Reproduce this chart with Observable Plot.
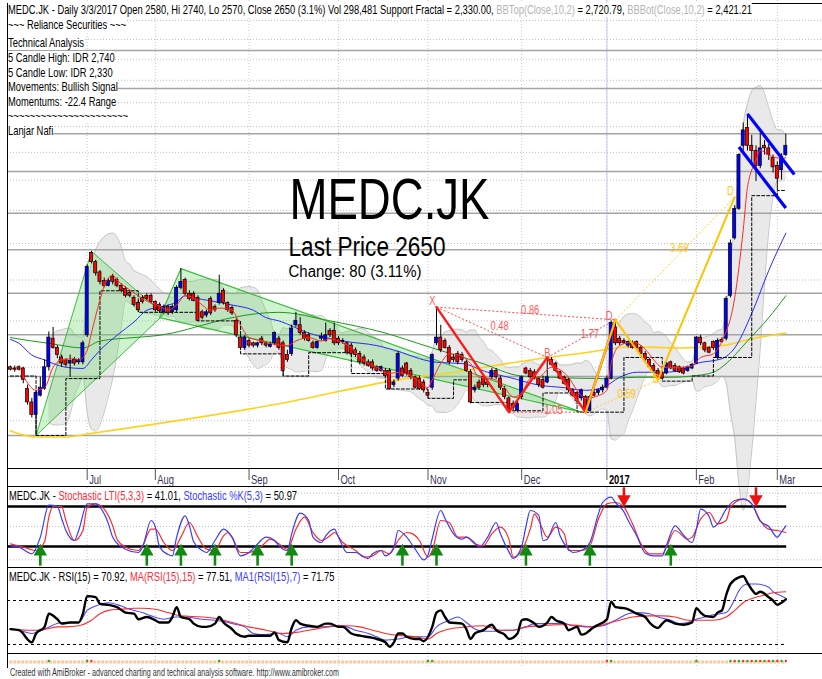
<!DOCTYPE html>
<html><head><meta charset="utf-8"><title>MEDC.JK</title>
<script src="https://cdn.jsdelivr.net/npm/d3@7"></script>
<script src="https://cdn.jsdelivr.net/npm/@observablehq/plot@0.6"></script>
<style>
html,body{margin:0;padding:0;background:#fff;}
#wrap{position:relative;width:822px;height:679px;overflow:hidden;font-family:"Liberation Sans",Arial,sans-serif;}
#wrap svg{position:absolute;left:0;overflow:visible;}
.t{position:absolute;white-space:nowrap;transform:scaleX(0.72);transform-origin:0 0;color:#000;font-size:13px;line-height:14px;}
.bg{background:#fff;}
.b{position:absolute;background:#000;}
</style></head><body><div id="wrap"></div>
<script>
// ---------------- DATA ----------------
// bar index 0 = first visible bar (June 2016), 182 = 3 Mar 2017
const opens = [1400,1395,1400,1395,1315,1265,1220,1290,1315,1400, 1520,1480,1440,1430,1415,1430,1420,1420,1535,1945,
 1895,1840,1795,1770,1815,1800,1770,1755,1735,1710, 1685,1710,1720,1720,1690,1675,1640,1665,1640,1650,
 1760,1800,1730,1730,1710,1640,1625,1705,1665,1685, 1745,1685,1660,1600,1525,1480,1510,1500,1490,1520,
 1500,1485,1500,1520,1500,1450,1455,1580,1580,1545, 1535,1500,1480,1520,1510,1555,1555,1520,1505,1500,
 1490,1470,1455,1440,1420,1420,1400,1385,1385,1385, 1330,1355,1395,1415,1385,1360,1355,1340,1300,1320,
 1500,1525,1510,1480,1440,1455,1450,1420,1380,1310, 1340,1360,1340,1360,1385,1355,1315,1280,1260,1235,
 1285,1395,1385,1380,1355,1350,1340,1430,1415,1380, 1360,1350,1310,1300,1280,1285,1235,1300,1300,1310,
 1320,1355,1570,1520,1510,1490,1500,1505,1480,1455, 1430,1405,1385,1375,1375,1420,1405,1400,1395,1385,
 1395,1415,1525,1500,1480,1505,1440,1515,1520,1720, 2030,2210,2650,2790,2650,2610,2500,2650,2630,2560,
 2500,2470,2580];
const highs = [1405,1405,1405,1400,1330,1280,1310,1360,1430,1550, 1570,1490,1450,1435,1450,1440,1435,1510,1880,1955,
 1905,1850,1810,1805,1830,1810,1780,1765,1745,1720, 1695,1720,1730,1730,1695,1685,1675,1675,1675,1770,
 1860,1810,1745,1740,1720,1650,1650,1715,1675,1825, 1755,1690,1670,1610,1535,1535,1520,1505,1505,1530,
 1505,1505,1550,1530,1510,1470,1580,1640,1615,1555, 1545,1510,1510,1545,1590,1565,1590,1530,1520,1505,
 1500,1480,1465,1450,1430,1430,1405,1405,1395,1395, 1350,1465,1405,1420,1395,1365,1365,1350,1310,1455,
 1665,1580,1520,1490,1450,1465,1460,1430,1390,1330, 1350,1370,1350,1395,1395,1365,1325,1285,1270,1270,
 1365,1400,1395,1390,1360,1365,1440,1440,1420,1385, 1365,1355,1315,1305,1315,1290,1290,1310,1315,1330,
 1365,1600,1605,1530,1520,1510,1510,1510,1490,1465, 1435,1415,1395,1385,1420,1425,1415,1405,1400,1405,
 1415,1530,1535,1505,1485,1510,1520,1525,1715,2020, 2230,2590,2830,2900,2730,2650,2750,2690,2660,2580,
 2530,2590,2740];
const lows = [1385,1380,1385,1335,1255,1210,1150,1285,1310,1385, 1475,1435,1400,1400,1360,1405,1410,1410,1525,1885,
 1820,1775,1760,1765,1775,1760,1735,1710,1710,1665, 1640,1680,1695,1680,1640,1635,1630,1625,1630,1640,
 1750,1720,1695,1690,1595,1605,1615,1625,1640,1675, 1675,1640,1625,1525,1470,1470,1480,1480,1480,1490,
 1480,1480,1490,1470,1365,1420,1445,1570,1535,1510, 1505,1475,1475,1510,1505,1525,1490,1490,1495,1450,
 1445,1440,1410,1405,1400,1385,1380,1380,1360,1310, 1320,1345,1360,1365,1350,1315,1310,1300,1280,1310,
 1490,1460,1475,1410,1420,1410,1420,1380,1260,1300, 1310,1320,1320,1350,1350,1310,1275,1230,1235,1230,
 1275,1370,1355,1350,1320,1315,1335,1405,1380,1350, 1330,1300,1285,1265,1270,1230,1230,1285,1290,1300,
 1315,1350,1490,1490,1495,1480,1475,1470,1450,1420, 1390,1380,1350,1350,1370,1390,1380,1375,1370,1380,
 1390,1410,1490,1460,1455,1470,1430,1500,1510,1710, 2020,2200,2610,2610,2500,2390,2480,2580,2540,2450,
 2330,2400,2570];
const closes = [1390,1390,1390,1350,1265,1220,1300,1320,1400,1525, 1480,1450,1415,1410,1425,1415,1430,1500,1870,1895,
 1835,1790,1770,1795,1790,1770,1745,1720,1720,1675, 1650,1690,1705,1690,1650,1645,1665,1635,1665,1760,
 1790,1730,1705,1695,1600,1615,1640,1635,1650,1730, 1685,1650,1635,1535,1480,1525,1490,1490,1500,1500,
 1490,1495,1545,1480,1385,1430,1565,1600,1545,1520, 1510,1480,1505,1530,1535,1535,1500,1500,1510,1460,
 1455,1450,1420,1415,1405,1395,1385,1400,1365,1315, 1340,1455,1365,1375,1360,1320,1315,1310,1290,1450,
 1525,1470,1480,1420,1430,1420,1430,1385,1265,1320, 1320,1330,1330,1385,1360,1320,1285,1235,1245,1260,
 1360,1375,1360,1355,1330,1320,1360,1410,1385,1355, 1335,1310,1290,1270,1310,1235,1285,1290,1310,1320,
 1355,1590,1500,1500,1500,1505,1480,1480,1455,1430, 1400,1385,1355,1355,1415,1395,1385,1380,1375,1400,
 1410,1525,1500,1470,1460,1480,1510,1505,1705,2000, 2210,2580,2770,2650,2610,2500,2630,2630,2580,2490,
 2410,2570,2650];

// overlay lines: [bar index, price]
const redLine = [[3,1365],[6,1310],[8,1320],[10,1400],[12,1430],[15,1435],[16,1430],[18,1470],[19,1545],[21,1700],[22,1770],[24,1825],[25,1800],[29,1735],[31,1705],[35,1670],[37,1650],[39,1675],[41,1720],[43,1710],[45,1675],[47,1650],[49,1660],[52,1650],[54,1580],[56,1525],[59,1510],[62,1495],[65,1490],[67,1510],[70,1525],[73,1510],[75,1520],[77,1510],[80,1480],[82,1440],[86,1400],[89,1375],[91,1380],[95,1355],[98,1320],[99,1350],[101,1415],[103,1455],[106,1445],[108,1415],[110,1360],[113,1355],[116,1320],[118,1285],[120,1300],[122,1355],[124,1360],[127,1400],[131,1360],[133,1310],[135,1280],[138,1290],[140,1310],[141,1415],[143,1490],[146,1505],[149,1475],[151,1430],[153,1400],[157,1400],[160,1405],[162,1440],[165,1455],[167,1510],[170,1710],[172,2080],[173,2350],[175,2540],[176,2615],[178,2580],[181,2555],[182,2560]];
const blueLine = [[0,1517],[2,1500],[5,1450],[8,1430],[10,1415],[13,1400],[17,1395],[19,1430],[21,1470],[25,1535],[29,1595],[32,1650],[35,1665],[39,1690],[41,1720],[43,1710],[47,1695],[52,1675],[57,1650],[60,1615],[63,1600],[70,1545],[78,1510],[86,1490],[92,1460],[96,1435],[100,1420],[106,1415],[112,1380],[117,1360],[124,1330],[130,1320],[135,1310],[139,1320],[143,1360],[147,1380],[153,1380],[157,1385],[161,1415],[167,1435],[170,1480],[174,1635],[178,1850],[182,2060]];
const greenLine = [[0,1525],[5,1510],[9,1500],[17,1480],[21,1510],[29,1525],[35,1535],[38,1545],[45,1580],[52,1615],[63,1640],[75,1600],[87,1550],[99,1480],[110,1420],[120,1365],[127,1360],[139,1355],[147,1360],[155,1360],[160,1365],[165,1380],[168,1415],[173,1510],[178,1615],[182,1720]];
const yellowLine = [[0,1165],[6,1145],[13,1145],[18,1155],[63,1260],[91,1350],[106,1385],[124,1435],[135,1460],[146,1485],[157,1480],[167,1490],[174,1520],[182,1545]];
const supportFractal = [[0,1365],[6,1150],[13,1355],[21,1745],[30,1640],[44,1600],[54,1455],[64,1365],[70,1460],[80,1375],[88,1315],[98,1280],[104,1350],[108,1265],[117,1235],[125,1300],[133,1230],[144,1440],[153,1345],[160,1365],[165,1440],[174,2295],[180,2330],[182,2330]];
const triangle1 = [[6,1150],[19,1955],[36,1630],[6,1150]];
const triangle2 = [[35,1615],[40,1860],[134,1230],[35,1615]];
const redPattern = [[100,1665],[117,1230],[126,1440],[135,1230],[142,1605]];
const redRatioLegs = [[100,1665,126,1440],[100,1665,142,1605],[117,1230,135,1230],[126,1440,142,1605]];
const redLabels = [[99,1675,"X"],[126,1440,"B"],[140.5,1605,"D"],[122,1634,"0.86"],[114.8,1557,"0.48"],[136,1521,"1.77"],[127.5,1225,"1.05"]];
const yellowPattern = [[135,1230],[142,1605],[152,1350],[170,2285]];
const yellowRatioLegs = [[135,1230,152,1350],[142,1605,170,2285]];
const yellowLabels = [[169,2297,"D"],[157,1949,"3.69"],[144.6,1283,"0.59"],[151.5,1339,"C"]];
const channelLines = [[173,2905,184,2440],[171,2640,182,2215]];
const levelLines = [3488,3126,2744,2461,2182,1964,1733,1537,1363,1150];
const gridPrices = [1200,1400,1600,1800,2000,2200,2400,2600,2800,3000,3200,3400,3600,3800];
const monthIdx = [18,34,56,77,98,120,140,161,180];
const monthLbl = ["Jul","Aug","Sep","Oct","Nov","Dec","2017","Feb","Mar"];

// Stochastic panel
const stochK = [[0,21],[2,19],[5,9],[7,34],[9,82],[11,80],[12,62],[13,44],[15,29],[16,44],[18,84],[20,84],[21,79],[23,54],[24,34],[27,16],[30,11],[31,19],[33,59],[34,49],[35,19],[37,8],[38,6],[39,34],[41,66],[42,51],[43,27],[45,14],[46,11],[48,29],[50,46],[52,34],[54,6],[56,11],[58,24],[60,34],[62,29],[63,21],[65,14],[66,39],[68,70],[70,59],[71,34],[73,26],[74,36],[76,46],[77,34],[79,11],[81,11],[84,2],[85,9],[87,14],[88,6],[90,19],[91,44],[93,34],[95,16],[97,0],[98,7],[99,32],[101,74],[102,62],[104,39],[106,31],[107,34],[109,25],[110,19],[112,34],[114,56],[115,39],[117,12],[118,2],[120,20],[121,50],[122,74],[124,67],[125,29],[126,31],[128,56],[129,36],[131,16],[132,11],[134,14],[136,26],[138,69],[139,86],[141,94],[142,86],[144,72],[145,59],[147,36],[149,10],[151,6],[153,6],[154,22],[156,51],[158,37],[160,26],[161,46],[162,76],[164,65],[165,49],[166,54],[168,76],[170,89],[172,91],[174,84],[176,58],[178,50],[180,34],[181,42],[182,51]];
const stochLTI = [[0,24],[3,19],[6,14],[8,27],[9,64],[10,80],[12,80],[13,59],[15,29],[17,44],[18,79],[20,84],[22,76],[24,51],[25,31],[27,19],[30,14],[31,21],[33,46],[34,46],[36,26],[38,14],[40,34],[42,56],[44,34],[46,16],[48,14],[50,36],[51,41],[52,34],[54,11],[56,11],[59,21],[61,31],[63,24],[65,16],[67,46],[69,64],[71,41],[73,29],[75,36],[76,41],[78,26],[81,14],[83,4],[85,6],[87,14],[89,9],[91,29],[93,41],[94,40],[96,29],[98,4],[99,14],[101,59],[103,56],[105,34],[107,34],[109,24],[111,21],[113,39],[115,49],[117,31],[118,4],[120,14],[122,46],[123,69],[124,59],[126,34],[128,49],[130,39],[131,14],[134,14],[136,21],[138,61],[140,84],[142,86],[144,79],[146,54],[148,24],[150,9],[153,9],[154,19],[156,44],[159,31],[160,34],[162,61],[164,71],[166,54],[168,59],[169,79],[172,91],[174,84],[176,59],[178,46],[180,44],[182,41]];
const buyArrows = [7,32,40,48,58,66,92,100,121,136,155];
const sellArrows = [144,175];

// RSI panel
const rsi15 = [[0,44],[2,43],[5,32],[6,40],[8,46],[9,58],[11,53],[12,49],[14,50],[16,50],[17,58],[18,74],[20,73],[21,67],[23,66],[25,64],[27,59],[29,58],[30,53],[32,55],[34,52],[35,50],[37,50],[38,55],[39,64],[40,55],[42,53],[43,49],[45,46],[46,46],[48,49],[49,55],[50,50],[52,44],[53,40],[55,37],[56,38],[58,38],[60,38],[61,38],[62,41],[63,34],[65,32],[66,45],[67,52],[68,49],[70,47],[72,46],[74,49],[75,49],[77,46],[78,46],[80,40],[82,38],[85,36],[86,35],[88,32],[89,28],[90,32],[91,40],[92,40],[93,37],[95,35],[96,35],[97,33],[99,46],[100,59],[101,61],[102,55],[103,50],[106,49],[107,44],[108,35],[109,40],[111,43],[113,48],[114,43],[116,39],[117,35],[119,40],[120,52],[121,53],[123,49],[124,46],[126,50],[127,55],[128,52],[130,49],[131,43],[133,46],[134,39],[135,40],[136,43],[137,46],[138,48],[140,53],[141,69],[142,64],[144,63],[145,62],[147,58],[149,55],[150,50],[152,45],[153,49],[154,52],[156,49],[158,48],[160,50],[161,63],[162,59],[163,56],[165,55],[166,59],[167,61],[168,75],[169,85],[171,91],[172,92],[173,86],[174,80],[175,76],[176,78],[178,73],[179,70],[180,66],[181,68],[182,71]];
const rsiMA7 = [[0,44],[2,43],[5,40],[8,44],[12,50],[16,50],[18,61],[20,65],[23,68],[26,65],[28,62],[31,59],[33,56],[36,53],[39,55],[41,55],[45,53],[48,52],[50,51],[52,49],[55,46],[57,40],[59,39],[63,40],[65,37],[67,43],[70,46],[72,46],[74,46],[77,47],[79,46],[81,43],[84,40],[86,37],[88,34],[91,35],[94,37],[96,37],[98,37],[100,46],[103,52],[105,55],[107,50],[109,44],[111,42],[113,42],[116,43],[118,43],[121,46],[123,49],[125,49],[128,49],[130,49],[132,47],[135,46],[137,46],[139,47],[142,52],[145,58],[147,59],[150,58],[152,55],[155,52],[157,49],[159,50],[161,53],[163,55],[165,57],[168,59],[170,71],[171,79],[173,85],[175,85],[178,82],[179,78],[181,74],[182,72]];
const rsiMA15 = [[0,44],[4,43],[7,43],[11,46],[13,46],[16,47],[19,52],[21,58],[23,61],[26,62],[29,63],[31,63],[34,62],[37,59],[40,56],[45,55],[49,53],[52,50],[56,46],[60,43],[64,40],[67,41],[70,43],[73,45],[76,47],[79,47],[82,46],[85,43],[88,40],[92,38],[95,37],[98,35],[100,40],[103,44],[107,46],[111,47],[115,43],[118,43],[121,46],[125,47],[128,48],[131,48],[134,47],[137,46],[140,49],[143,52],[146,55],[150,56],[153,56],[156,55],[159,52],[162,52],[165,52],[168,55],[170,61],[172,68],[175,73],[177,75],[179,77],[182,78]];
const stripGreen = [9,18,49,98,99,141,161,169,171,173,175,177,179,181];
const stripRed = [19,140,170,172,174,176,178,180,182];

// ---------------- BUILD ----------------
const wrap = document.getElementById("wrap");
const FONT = "Liberation Sans, Arial, sans-serif";
const XL = -0.7, XR = 190.6, XE = 182.2;
const xs = {type: "linear", domain: [-2.347, 190.61], range: [0, 822], axis: null};
const P = a => a.map(([i, v]) => ({i, v}));
const L4 = a => a.map(([a1, b1, a2, b2]) => ({x1: a1, y1: b1, x2: a2, y2: b2}));
const T3 = a => a.map(([i, v, s]) => ({i, v, s}));
const bars = closes.map((c, i) => ({i, o: opens[i], h: highs[i], l: lows[i], c}));
const bb = [];
for (let i = 9; i < closes.length; i++) {
  const w = closes.slice(i - 9, i + 1), m = d3.mean(w);
  const sd = Math.sqrt(d3.mean(w, v => (v - m) ** 2));
  bb.push({i, hi: m + 2 * sd, lo: m - 2 * sd});
}
const style = {background: "transparent", fontFamily: FONT, overflow: "visible"};
const vgrid = Plot.ruleX(monthIdx, {x: d => d, stroke: "#c8c8c8", strokeDasharray: "1,2"});
const y2017 = Plot.ruleX([140], {x: d => d, stroke: "#c8c8f4"});

const main = Plot.plot({
  width: 822, height: 468, margin: 0, style,
  x: xs, y: {type: "log", domain: [1045.8, 4027], range: [468, 0], axis: null},
  marks: [
    Plot.ruleY(gridPrices, {y: d => d, x1: XL, x2: XR, stroke: "#bdbdbd", strokeDasharray: "1,2"}),
    vgrid, y2017,
    Plot.areaY(bb, {x: "i", y1: "lo", y2: "hi", fill: "#e9e9e9", curve: "monotone-x"}),
    Plot.line(bb, {x: "i", y: "hi", stroke: "#c6c6c6", strokeWidth: 1, curve: "monotone-x"}),
    Plot.line(bb, {x: "i", y: "lo", stroke: "#c6c6c6", strokeWidth: 1, curve: "monotone-x"}),
    Plot.ruleY(levelLines, {y: d => d, x1: XL, x2: XR, stroke: "#a4a4a4", strokeWidth: 1.5}),
    Plot.line(P(triangle1), {x: "i", y: "v", fill: "#5fd35f", fillOpacity: 0.3, stroke: "#3cbc3c", strokeWidth: 1}),
    Plot.line(P(triangle2), {x: "i", y: "v", fill: "#5fd35f", fillOpacity: 0.3, stroke: "#3cbc3c", strokeWidth: 1.2}),
    Plot.line(P(yellowLine), {x: "i", y: "v", stroke: "#ffd21a", strokeWidth: 1.6, curve: "monotone-x"}),
    Plot.line(P(greenLine), {x: "i", y: "v", stroke: "#1c9a1c", strokeWidth: 1, curve: "monotone-x"}),
    Plot.line(P(blueLine), {x: "i", y: "v", stroke: "#2b2bff", strokeWidth: 1, curve: "monotone-x"}),
    Plot.line(P(supportFractal), {x: "i", y: "v", curve: "step-after", stroke: "#000", strokeWidth: 1, strokeDasharray: "3,2"}),
    Plot.link(L4(redRatioLegs), {x1: "x1", y1: "y1", x2: "x2", y2: "y2", stroke: "#ff4a4a", strokeWidth: 1, strokeDasharray: "2,2"}),
    Plot.link(L4(yellowRatioLegs), {x1: "x1", y1: "y1", x2: "x2", y2: "y2", stroke: "#ffcf2a", strokeWidth: 1, strokeDasharray: "2,2"}),
    Plot.ruleX(bars, {x: "i", y1: "l", y2: "h", stroke: "#000", strokeWidth: 1}),
    Plot.rect(bars, {x1: d => d.i - 0.36, x2: d => d.i + 0.36, y1: "o", y2: "c",
      fill: d => d.c > d.o ? "#0000ff" : "#ff0000", stroke: "#000", strokeWidth: 0.7}),
    Plot.line(P(redLine), {x: "i", y: "v", stroke: "#ff2a2a", strokeWidth: 1, curve: "monotone-x"}),
    Plot.line(P(redPattern), {x: "i", y: "v", stroke: "#ff1a1a", strokeWidth: 2.4}),
    Plot.line(P(yellowPattern), {x: "i", y: "v", stroke: "#ffc400", strokeWidth: 2}),
    Plot.link(L4(channelLines), {x1: "x1", y1: "y1", x2: "x2", y2: "y2", stroke: "#0000ff", strokeWidth: 3.2}),
    Plot.text(T3(redLabels), {x: "i", y: "v", text: "s", fill: "#ff5a5a", fontSize: 13, textAnchor: "middle", lineAnchor: "bottom"}),
    Plot.text(T3(yellowLabels), {x: "i", y: "v", text: "s", fill: "#ffc61a", fontSize: 13, textAnchor: "middle", lineAnchor: "bottom"}),
    Plot.text(["MEDC.JK"], {text: d => d, frameAnchor: "top-left", dx: 289, dy: 218, fontSize: 57, lineAnchor: "bottom", textAnchor: "start", fill: "#000"}),
    Plot.text(["Last Price 2650"], {text: d => d, frameAnchor: "top-left", dx: 288, dy: 255.5, fontSize: 28, lineAnchor: "bottom", textAnchor: "start", fill: "#000"}),
    Plot.text(["Change: 80 (3.11%)"], {text: d => d, frameAnchor: "top-left", dx: 288, dy: 276.5, fontSize: 16, lineAnchor: "bottom", textAnchor: "start", fill: "#000"})
  ]
});

const months = monthIdx.map((i, k) => ({i, s: monthLbl[k]}));
const axisStrip = Plot.plot({
  width: 822, height: 19, margin: 0, style,
  x: xs, y: {domain: [0, 19], range: [0, 19], axis: null},
  marks: [
    Plot.ruleX(monthIdx, {x: d => d, y1: 1, y2: 12, stroke: "#555"}),
    Plot.text(months.filter(d => d.s !== "2017"), {x: "i", y: 15, text: "s", dx: 2, textAnchor: "start", lineAnchor: "bottom", fontSize: 13, fill: "#3a3358"}),
    Plot.text(months.filter(d => d.s === "2017"), {x: "i", y: 15, text: "s", dx: 2, textAnchor: "start", lineAnchor: "bottom", fontSize: 13, fontWeight: "bold", fill: "#000"})
  ]
});

const stoch = Plot.plot({
  width: 822, height: 80, margin: 0, style,
  x: xs, y: {domain: [-11.5, 108.5], range: [80, 0], axis: null},
  marks: [
    Plot.ruleY([0, 50, 100], {y: d => d, x1: XL, x2: XR, stroke: "#bdbdbd", strokeDasharray: "1,2"}),
    vgrid, y2017,
    Plot.ruleY([20, 80], {y: d => d, x1: XL, x2: XE, stroke: "#000", strokeWidth: 2.4}),
    Plot.line(P(stochLTI), {x: "i", y: "v", stroke: "#ff2a2a", strokeWidth: 1.2, curve: "monotone-x"}),
    Plot.line(P(stochK), {x: "i", y: "v", stroke: "#3a3aff", strokeWidth: 1.2, curve: "monotone-x"}),
    Plot.ruleX(buyArrows, {x: d => d, y1: -9.5, y2: 9, stroke: "#118a11", strokeWidth: 2.6}),
    Plot.dot(buyArrows, {x: d => d, y: 12.5, symbol: "triangle", r: 5, fill: "#118a11"}),
    Plot.ruleX(sellArrows, {x: d => d, y1: 108, y2: 95, stroke: "#ee1111", strokeWidth: 2.6}),
    Plot.dot(sellArrows, {x: d => d, y: 91, symbol: "triangle", rotate: 180, r: 5, fill: "#ee1111"})
  ]
});

const rsiPlot = Plot.plot({
  width: 822, height: 86, margin: 0, style,
  x: xs, y: {domain: [21.8, 100], range: [86, 0], axis: null},
  marks: [
    vgrid, y2017,
    Plot.ruleY([30, 70], {y: d => d, x1: XL, x2: XE, stroke: "#000", strokeWidth: 1, strokeDasharray: "3,3"}),
    Plot.line(P(rsiMA7), {x: "i", y: "v", stroke: "#4a4aff", strokeWidth: 1.1, curve: "monotone-x"}),
    Plot.line(P(rsiMA15), {x: "i", y: "v", stroke: "#ff2a2a", strokeWidth: 1.1, curve: "monotone-x"}),
    Plot.line(P(rsi15), {x: "i", y: "v", stroke: "#000", strokeWidth: 2.4, curve: "monotone-x"})
  ]
});

const strip = Plot.plot({
  width: 822, height: 15, margin: 0, style,
  x: xs, y: {domain: [0, 15], range: [0, 15], axis: null},
  marks: [
    vgrid,
    Plot.ruleY([8.5], {y: d => d, x1: XL + 0.5, x2: XE, stroke: "#fcc89c", strokeWidth: 3, strokeDasharray: "3,1"}),
    Plot.dot(stripGreen, {x: d => d, y: 7.5, r: 1.2, fill: "#22aa22"}),
    Plot.dot(stripRed, {x: d => d, y: 7.5, r: 1.2, fill: "#ee3333"})
  ]
});

function place(svg, top) { svg.style.top = top + "px"; wrap.appendChild(svg); }
place(main, 0); place(axisStrip, 468); place(stoch, 487); place(rsiPlot, 567); place(strip, 653);

// horizontal compression of the svg texts (the reference is squeezed horizontally)
const targets = {"MEDC.JK": 200, "Last Price 2650": 157, "Change: 80 (3.11%)": 133};
wrap.querySelectorAll("svg text").forEach(t => {
  const len = t.getComputedTextLength();
  if (!(len > 0)) return;
  const s = t.textContent.trim();
  const w = targets[s] !== undefined ? targets[s] : len * 0.72;
  t.setAttribute("textLength", w.toFixed(1));
  t.setAttribute("lengthAdjust", "spacingAndGlyphs");
});

// frame lines
function bline(l, t, w, h) { const d = document.createElement("div"); d.className = "b"; Object.assign(d.style, {left: l + "px", top: t + "px", width: w + "px", height: h + "px"}); wrap.appendChild(d); }
bline(7, 3, 815, 1); bline(7, 3, 1, 665);
bline(7, 468, 815, 1); bline(7, 486, 815, 1); bline(7, 567, 815, 1); bline(7, 653, 815, 1);

// header texts
const GR = "#b4b4b4";
const header = [
  [3, `MEDC.JK - Daily 3/3/2017 Open 2580, Hi 2740, Lo 2570, Close 2650 (3.1%) Vol 298,481 Support Fractal = 2,330.00, <span style="color:${GR}">BBTop(Close,10,2)</span> = 2,720.79, <span style="color:${GR}">BBBot(Close,10,2)</span> = 2,421.21`],
  [18, "~~~ Reliance Securities ~~~"],
  [36.3, "Technical Analysis"],
  [51.3, "5 Candle High: IDR 2,740"],
  [66.3, "5 Candle Low: IDR 2,330"],
  [80.3, "Movements: Bullish Signal"],
  [94.7, "Momentums: -22.4 Range"],
  [109, "~~~~~~~~~~~~~~~~~~~~~~"],
  [123.7, "Lanjar Nafi"],
  [489, `MEDC.JK - <span style="color:#ff2a3a">Stochastic LTI(5,3,3)</span> = 41.01, <span style="color:#3a3aff">Stochastic %K(5,3)</span> = 50.97`],
  [569.5, `MEDC.JK - RSI(15) = 70.92, <span style="color:#ff2a3a">MA(RSI(15),15)</span> = 77.51, <span style="color:#3a3aff">MA1(RSI(15),7)</span> = 71.75`]
];
header.forEach(([top, html], k) => {
  const d = document.createElement("div");
  d.className = "t bg";
  d.style.top = top + "px";
  d.style.left = (k >= 9 ? 9 : 8) + "px";
  d.innerHTML = html;
  wrap.appendChild(d);
});
const cap = document.createElement("div");
cap.className = "t";
Object.assign(cap.style, {top: "667px", left: "10px", fontSize: "10px", lineHeight: "12px", color: "#333"});
cap.textContent = "Created with AmiBroker - advanced charting and technical analysis software. http://www.amibroker.com";
wrap.appendChild(cap);
</script></body></html>
